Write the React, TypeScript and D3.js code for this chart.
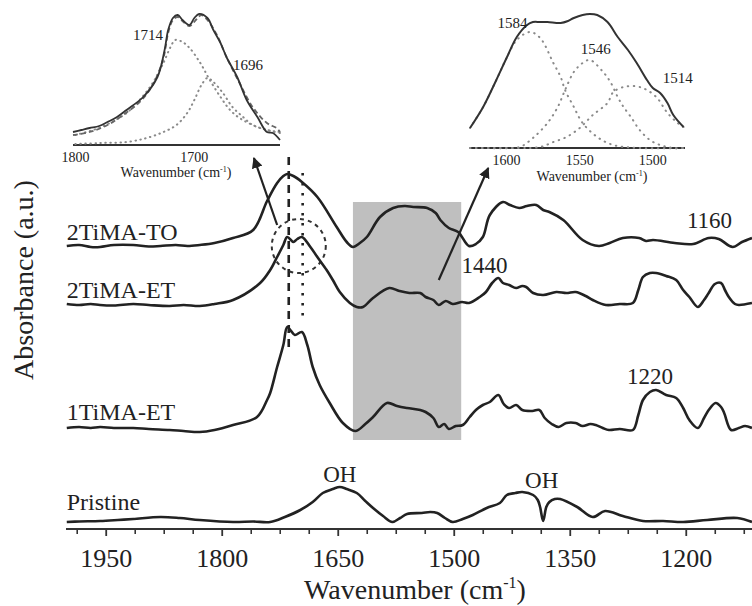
import React from "react";
import * as d3 from "d3";

// ---------- Main spectra (wavenumber cm-1, absorbance a.u. relative to own baseline) ----------
const seriesNames = ["2TiMA-TO", "2TiMA-ET", "1TiMA-ET", "Pristine"];
const seriesOffsets = [2.84, 2.25, 1.01, 0.08];

const tiTO: [number, number][] = [
  [2001, 0], [1985, 0.01], [1970, -0.01], [1958, -0.01], [1940, 0.01], [1915, 0.01], [1895, -0.005], [1880, 0], [1860, 0.01], [1845, 0], [1829, 0.01],
  [1810, 0.03], [1786, 0.08], [1760, 0.16], [1742, 0.45], [1729, 0.63], [1721, 0.7], [1716, 0.72], [1708, 0.7],
  [1697, 0.64], [1677, 0.49], [1652, 0.19], [1639, 0.04], [1631, -0.01], [1622, 0.03], [1613, 0.09], [1596, 0.29],
  [1579, 0.38], [1564, 0.4], [1553, 0.39], [1535, 0.38], [1524, 0.33], [1518, 0.26], [1507, 0.18], [1495, 0.14],
  [1481, 0], [1472, 0.02], [1463, 0.09], [1454, 0.31], [1437, 0.44], [1428, 0.41], [1416, 0.38], [1406, 0.4],
  [1394, 0.41], [1385, 0.36], [1377, 0.34], [1359, 0.26], [1334, 0.06], [1313, 0], [1299, 0.03], [1282, 0.08],
  [1261, 0.08], [1252, 0.05], [1243, 0.06], [1215, 0.03], [1191, 0.02], [1171, 0.08], [1158, 0.07], [1140, -0.01],
  [1128, 0.04], [1115, 0.08],
];

const tiET2: [number, number][] = [
  [2001, 0.01], [1985, 0], [1970, 0.01], [1958, 0], [1940, -0.005], [1915, 0.01], [1895, 0], [1868, -0.01], [1850, 0], [1829, -0.01],
  [1810, 0.01], [1786, 0.05], [1751, 0.22], [1738, 0.35], [1729, 0.48], [1721, 0.6], [1716, 0.68], [1708, 0.63],
  [1703, 0.66], [1697, 0.68], [1686, 0.58], [1677, 0.48], [1665, 0.35], [1657, 0.25], [1648, 0.13], [1635, 0.02],
  [1626, -0.02], [1618, -0.02], [1605, 0.07], [1584, 0.17], [1571, 0.14], [1558, 0.12], [1544, 0.12], [1537, 0.08],
  [1527, 0.05], [1520, 0], [1511, 0.04], [1502, 0.01], [1490, 0.03], [1481, 0.02], [1467, 0.08], [1459, 0.13],
  [1451, 0.22], [1443, 0.27], [1437, 0.22], [1429, 0.2], [1420, 0.17], [1412, 0.19], [1407, 0.18], [1398, 0.12],
  [1385, 0.1], [1368, 0.13], [1355, 0.12], [1343, 0.13], [1330, 0.09], [1321, 0.05], [1304, 0], [1286, 0.01],
  [1269, 0.02], [1262, 0.15], [1256, 0.28], [1247, 0.32], [1239, 0.32], [1226, 0.29], [1213, 0.25], [1204, 0.15],
  [1196, 0.08], [1185, -0.02], [1177, 0.05], [1171, 0.12], [1163, 0.21], [1155, 0.22], [1150, 0.15], [1145, 0.08],
  [1137, 0.01], [1132, 0], [1115, 0.02],
];

const tiET1: [number, number][] = [
  [2001, 0.01], [1985, 0.02], [1970, 0.01], [1958, 0.02], [1940, 0.01], [1915, 0.01], [1895, 0], [1868, -0.01], [1850, -0.02], [1829, -0.03],
  [1810, -0.01], [1786, 0.04], [1755, 0.12], [1742, 0.29], [1738, 0.36], [1729, 0.62], [1721, 0.84], [1716, 1.02],
  [1711, 0.98], [1706, 0.94], [1697, 0.97], [1690, 0.84], [1683, 0.62], [1674, 0.44], [1661, 0.26], [1644, 0.06],
  [1628, -0.02], [1615, 0.05], [1605, 0.12], [1587, 0.26], [1574, 0.23], [1561, 0.21], [1544, 0.19], [1537, 0.17],
  [1527, 0.11], [1520, 0.02], [1513, 0.05], [1507, 0], [1498, 0.03], [1489, 0.04], [1480, 0.12], [1472, 0.19],
  [1463, 0.24], [1454, 0.27], [1443, 0.34], [1436, 0.25], [1429, 0.21], [1420, 0.24], [1412, 0.19], [1399, 0.18],
  [1390, 0.19], [1383, 0.11], [1374, 0.05], [1365, 0.02], [1355, 0.06], [1343, 0.06], [1334, 0.03], [1324, 0.05],
  [1317, 0.04], [1308, 0.01], [1300, -0.01], [1286, 0], [1269, -0.01], [1262, 0.14], [1256, 0.29], [1247, 0.37],
  [1239, 0.39], [1226, 0.34], [1213, 0.31], [1204, 0.21], [1196, 0.09], [1185, 0.01], [1177, 0.11], [1171, 0.19],
  [1162, 0.26], [1155, 0.22], [1151, 0.16], [1142, -0.01], [1132, 0.01], [1124, 0.03], [1115, 0.01],
];

const pristine: [number, number][] = [
  [2001, 0], [1985, 0.005], [1958, 0.01], [1935, 0.02], [1915, 0.03], [1880, 0.05], [1855, 0.04], [1829, 0.02], [1786, 0],
  [1760, 0.005], [1738, 0], [1719, 0.05], [1699, 0.12], [1683, 0.2], [1670, 0.29], [1657, 0.33], [1648, 0.35],
  [1639, 0.33], [1626, 0.29], [1615, 0.21], [1605, 0.14], [1592, 0.06], [1580, 0], [1570, 0.04], [1561, 0.08],
  [1542, 0.09], [1531, 0.1], [1522, 0.09], [1512, 0.04], [1502, 0], [1489, 0.03], [1476, 0.07], [1458, 0.14],
  [1441, 0.19], [1432, 0.27], [1421, 0.29], [1412, 0.3], [1398, 0.27], [1392, 0.22], [1389, 0.15], [1385, 0.01],
  [1381, 0.15], [1377, 0.2], [1370, 0.23], [1363, 0.23], [1341, 0.15], [1321, 0.05], [1305, 0.11], [1282, 0.06],
  [1256, 0.01], [1230, 0.01], [1204, 0], [1173, 0.02], [1134, 0.04], [1115, 0],
];

const seriesData = [tiTO, tiET2, tiET1, pristine];

// label anchors [wavenumber, absolute a.u.]
const seriesLabelPos: [number, number][] = [[2001, 2.9], [2001, 2.32], [2001, 1.1], [2001, 0.2]];

const peakLabels = ["1160", "1440", "1220", "OH", "OH"];
const peakLabelPos: [number, number][] = [[1170, 3.02], [1461, 2.57], [1247, 1.46], [1648, 0.48], [1387, 0.42]];

const majorTicks = [1950, 1800, 1650, 1500, 1350, 1200];
const minorTicks = [1987.5, 1912.5, 1875, 1837.5, 1762.5, 1725, 1687.5, 1612.5, 1575, 1537.5, 1462.5, 1425, 1387.5, 1312.5, 1275, 1237.5, 1162.5, 1125];

const shadedRange = [1631, 1491];
const shadedAbs = [3.28, 0.9];
const dashLine: [number, number, number] = [1714, 3.73, 1.82];
const dotLine: [number, number, number] = [1696, 3.57, 2.07];
const circleCenter: [number, number] = [1701, 2.84];
const arrows: [number, number, number, number][] = [
  [1729, 3.05, 1759, 3.72],
  [1520, 2.5, 1456, 3.62],
];

// ---------- Inset 1 (C=O region) ----------
const in1Ticks = [1800, 1700];
const in1Measured: [number, number][] = [
  [1802, 0.13], [1795, 0.15], [1788, 0.17], [1780, 0.19], [1773, 0.23], [1765, 0.28], [1757, 0.35], [1743, 0.48], [1731, 0.68],
  [1725, 0.95], [1722, 1.15], [1718, 1.27], [1714, 1.3], [1710, 1.25], [1704, 1.2], [1700, 1.27], [1696, 1.31],
  [1689, 1.27], [1684, 1.15], [1678, 1.02], [1673, 0.88], [1664, 0.68], [1656, 0.45], [1647, 0.28], [1639, 0.13],
  [1634, 0.12], [1628, 0.05],
];
const in1Fit: [number, number][] = [
  [1802, 0.1], [1788, 0.13], [1773, 0.2], [1760, 0.3], [1746, 0.43], [1735, 0.6], [1726, 0.87], [1722, 1.12],
  [1718, 1.25], [1714, 1.28], [1710, 1.24], [1704, 1.19], [1698, 1.26], [1694, 1.3], [1689, 1.25], [1681, 1.1],
  [1673, 0.88], [1662, 0.62], [1651, 0.38], [1639, 0.22], [1631, 0.17], [1628, 0.13],
];
const in1Comp1: [number, number][] = [
  [1800, 0.1], [1785, 0.15], [1771, 0.22], [1757, 0.32], [1746, 0.45], [1735, 0.62], [1726, 0.82], [1720, 0.98],
  [1716, 1.05], [1710, 1.03], [1704, 0.97], [1695, 0.82], [1687, 0.65], [1678, 0.48], [1670, 0.35], [1662, 0.27],
  [1651, 0.2], [1639, 0.15], [1628, 0.13],
];
const in1Comp2: [number, number][] = [
  [1800, 0.01], [1779, 0.02], [1757, 0.03], [1740, 0.07], [1726, 0.13], [1715, 0.2], [1706, 0.32], [1700, 0.45],
  [1694, 0.6], [1689, 0.67], [1684, 0.63], [1676, 0.52], [1668, 0.38], [1659, 0.28], [1651, 0.2], [1639, 0.15],
  [1628, 0.12],
];
const in1Labels = ["1714", "1696"];
const in1LabelPos: [number, number][] = [[1739, 1.05], [1655, 0.75]];

// ---------- Inset 2 (1625-1478 region) ----------
const in2Ticks = [1600, 1550, 1500];
const in2Measured: [number, number][] = [
  [1625, 0.2], [1616, 0.41], [1607, 0.68], [1600, 0.9], [1593, 1.11], [1586, 1.23], [1582, 1.26], [1577, 1.26],
  [1572, 1.26], [1563, 1.25], [1558, 1.27], [1554, 1.3], [1548, 1.33], [1543, 1.34], [1538, 1.33], [1531, 1.26],
  [1524, 1.11], [1517, 0.98], [1511, 0.85], [1504, 0.68], [1500, 0.6], [1495, 0.55], [1490, 0.45], [1486, 0.33],
  [1479, 0.21],
];
const in2Comp1: [number, number][] = [
  [1625, 0.2], [1616, 0.41], [1607, 0.68], [1600, 0.9], [1593, 1.08], [1584, 1.16], [1577, 1.1], [1568, 0.85],
  [1563, 0.71], [1560, 0.58], [1554, 0.41], [1548, 0.25], [1538, 0.11], [1527, 0.03], [1509, 0], [1478, 0],
];
const in2Comp2: [number, number][] = [
  [1625, 0], [1604, 0], [1591, 0.01], [1582, 0.1], [1572, 0.25], [1565, 0.41], [1560, 0.58], [1554, 0.76],
  [1548, 0.85], [1543, 0.88], [1534, 0.76], [1529, 0.66], [1524, 0.51], [1520, 0.41], [1515, 0.31], [1509, 0.18],
  [1502, 0.08], [1495, 0.03], [1486, 0], [1478, 0],
];
const in2Comp3: [number, number][] = [
  [1625, 0], [1591, 0], [1577, 0.01], [1568, 0.06], [1559, 0.11], [1550, 0.2], [1541, 0.33], [1531, 0.45],
  [1527, 0.56], [1520, 0.61], [1514, 0.62], [1509, 0.61], [1504, 0.58], [1497, 0.5], [1490, 0.35], [1483, 0.25],
  [1479, 0.21],
];
const in2Labels = ["1584", "1546", "1514"];
const in2LabelPos: [number, number][] = [[1596, 1.2], [1539, 0.94], [1483, 0.65]];

const FONT = "'Liberation Serif', 'Times New Roman', serif";
const INK = "#222";

export default function App() {
  const W = 752, H = 606;
  const x = d3.scaleLinear().domain([2002, 1115]).range([66, 752]);
  const y = d3.scaleLinear().domain([0, 5.3]).range([530, 0]);
  const axisY = 529;

  const x1 = d3.scaleLinear().domain([1802, 1628]).range([73, 280]);
  const y1 = d3.scaleLinear().domain([0, 1]).range([145, 45]);
  const x2 = d3.scaleLinear().domain([1625, 1478]).range([470, 685]);
  const y2 = d3.scaleLinear().domain([0, 1]).range([148, 48]);

  const mkLine = (xs: any, ys: any, off = 0) =>
    d3.line<[number, number]>().x((d) => xs(d[0])).y((d) => ys(d[1] + off)).curve(d3.curveCatmullRom.alpha(0.5));

  const sup = (base: string, fs: number, supFs: number) => (
    <>
      {base}
      <tspan fontSize={supFs} dy={-fs * 0.38}>-1</tspan>
      <tspan dy={fs * 0.38}>)</tspan>
    </>
  );

  return (
    <svg width={W} height={H} style={{ position: "absolute", left: 0, top: 0, background: "#fff" }} fontFamily={FONT}>
      {/* shaded region */}
      <rect x={x(shadedRange[0])} y={y(shadedAbs[0])} width={x(shadedRange[1]) - x(shadedRange[0])} height={y(shadedAbs[1]) - y(shadedAbs[0])} fill="#bfbfbf" />

      {/* vertical guides */}
      <line x1={x(dashLine[0])} x2={x(dashLine[0])} y1={y(dashLine[1])} y2={y(dashLine[2])} stroke={INK} strokeWidth={2.6} strokeDasharray="8,6" />
      <line x1={x(dotLine[0])} x2={x(dotLine[0])} y1={y(dotLine[1])} y2={y(dotLine[2])} stroke={INK} strokeWidth={2.6} strokeDasharray="2.5,7.5" />
      <circle cx={x(circleCenter[0])} cy={y(circleCenter[1])} r={27} fill="none" stroke="#333" strokeWidth={2} strokeDasharray="4,4" />

      {/* spectra */}
      {seriesData.map((s, i) => (
        <path key={i} d={mkLine(x, y, seriesOffsets[i])(s) || ""} fill="none" stroke={INK} strokeWidth={2.6} strokeLinejoin="round" />
      ))}

      {/* series labels */}
      {seriesNames.map((n, i) => (
        <text key={n} x={x(seriesLabelPos[i][0])} y={y(seriesLabelPos[i][1])} fontSize={24} fill={INK}>{n}</text>
      ))}
      {peakLabels.map((t, i) => (
        <text key={i} x={x(peakLabelPos[i][0])} y={y(peakLabelPos[i][1])} fontSize={23} fill={INK} textAnchor="middle">{t}</text>
      ))}

      {/* arrows */}
      <defs>
        <marker id="ah" viewBox="0 0 10 10" refX={9} refY={5} markerWidth={5} markerHeight={5} orient="auto">
          <path d="M0,0 L10,5 L0,10 z" fill={INK} />
        </marker>
      </defs>
      {arrows.map((a, i) => (
        <line key={i} x1={x(a[0])} y1={y(a[1])} x2={x(a[2])} y2={y(a[3])} stroke={INK} strokeWidth={2.2} markerEnd="url(#ah)" />
      ))}

      {/* main x axis */}
      <line x1={66} x2={752} y1={axisY} y2={axisY} stroke="#333" strokeWidth={2.2} />
      {minorTicks.map((t) => (
        <line key={t} x1={x(t)} x2={x(t)} y1={axisY} y2={axisY + 5} stroke="#333" strokeWidth={1.6} />
      ))}
      {majorTicks.map((t) => (
        <g key={t}>
          <line x1={x(t)} x2={x(t)} y1={axisY} y2={axisY + 7} stroke="#333" strokeWidth={1.8} />
          <text x={x(t)} y={567} fontSize={26} textAnchor="middle" fill={INK}>{t}</text>
        </g>
      ))}
      <text x={415} y={599} fontSize={28} textAnchor="middle" fill={INK}>{sup("Wavenumber (cm", 28, 16)}</text>
      <text transform="translate(33,280) rotate(-90)" fontSize={28} textAnchor="middle" fill={INK}>Absorbance (a.u.)</text>

      {/* inset 1 */}
      <line x1={73} x2={280} y1={145} y2={145} stroke="#333" strokeWidth={2} />
      <path d={mkLine(x1, y1)(in1Comp1) || ""} fill="none" stroke="#8a8a8a" strokeWidth={2} strokeDasharray="0.5,4.5" strokeLinecap="round" />
      <path d={mkLine(x1, y1)(in1Comp2) || ""} fill="none" stroke="#8a8a8a" strokeWidth={2} strokeDasharray="0.5,4.5" strokeLinecap="round" />
      <path d={mkLine(x1, y1)(in1Fit) || ""} fill="none" stroke="#666" strokeWidth={1.8} strokeDasharray="5,3" />
      <path d={mkLine(x1, y1)(in1Measured) || ""} fill="none" stroke="#333" strokeWidth={1.8} />
      {in1Ticks.map((t) => (
        <text key={t} x={x1(t)} y={162} fontSize={14} textAnchor="middle" fill={INK}>{t}</text>
      ))}
      <text x={176} y={177} fontSize={14} textAnchor="middle" fill={INK}>{sup("Wavenumber (cm", 14, 8)}</text>
      {in1Labels.map((t, i) => (
        <text key={t} x={x1(in1LabelPos[i][0])} y={y1(in1LabelPos[i][1])} fontSize={15} textAnchor="middle" fill={INK}>{t}</text>
      ))}

      {/* inset 2 */}
      <line x1={470} x2={685} y1={148} y2={148} stroke="#333" strokeWidth={2} />
      {[in2Comp1, in2Comp2, in2Comp3].map((c, i) => (
        <path key={i} d={mkLine(x2, y2)(c) || ""} fill="none" stroke="#8a8a8a" strokeWidth={2} strokeDasharray="0.5,5.5" strokeLinecap="round" />
      ))}
      <path d={mkLine(x2, y2)(in2Measured) || ""} fill="none" stroke="#333" strokeWidth={2} />
      {in2Ticks.map((t) => (
        <text key={t} x={x2(t)} y={165} fontSize={14} textAnchor="middle" fill={INK}>{t}</text>
      ))}
      <text x={592} y={181} fontSize={14} textAnchor="middle" fill={INK}>{sup("Wavenumber (cm", 14, 8)}</text>
      {in2Labels.map((t, i) => (
        <text key={t} x={x2(in2LabelPos[i][0])} y={y2(in2LabelPos[i][1])} fontSize={15} textAnchor="middle" fill={INK}>{t}</text>
      ))}
    </svg>
  );
}
